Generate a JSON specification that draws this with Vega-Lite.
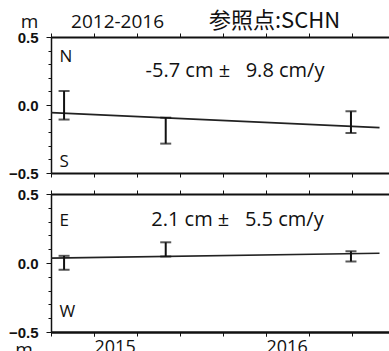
{
  "$schema": "https://vega.github.io/schema/vega-lite/v6.json",
  "background": "white",
  "padding": {"left": 8, "top": 10, "right": 0, "bottom": 0},
  "bounds": "flush",
  "spacing": 21,
  "config": {
    "view": {"stroke": null},
    "axis": {"domainColor": "#111", "tickColor": "#111", "grid": false}
  },
  "datasets": {
    "bars": [
      {"panel": "NS", "t": 2014.826, "lo": -0.107, "hi": 0.103},
      {"panel": "NS", "t": 2015.417, "lo": -0.284, "hi": -0.093},
      {"panel": "NS", "t": 2016.494, "lo": -0.206, "hi": -0.046},
      {"panel": "EW", "t": 2014.826, "lo": -0.049, "hi": 0.052},
      {"panel": "EW", "t": 2015.417, "lo": 0.047, "hi": 0.150},
      {"panel": "EW", "t": 2016.494, "lo": 0.011, "hi": 0.085}
    ],
    "trend": [
      {"panel": "NS", "t": 2014.75, "v": -0.056},
      {"panel": "NS", "t": 2016.66, "v": -0.166},
      {"panel": "EW", "t": 2014.75, "v": 0.035},
      {"panel": "EW", "t": 2016.66, "v": 0.071}
    ],
    "letters": [
      {"panel": "NS", "t": 2014.80, "v": 0.314, "txt": "N"},
      {"panel": "NS", "t": 2014.80, "v": -0.458, "txt": "S"},
      {"panel": "EW", "t": 2014.80, "v": 0.271, "txt": "E"},
      {"panel": "EW", "t": 2014.80, "v": -0.392, "txt": "W"}
    ],
    "rates": [
      {"panel": "NS", "t": 2015.82, "v": 0.206, "txt": "-5.7 cm ±\u00a0\u00a0 9.8 cm/y"},
      {"panel": "EW", "t": 2015.834, "v": 0.271, "txt": "2.1 cm ±\u00a0\u00a0 5.5 cm/y"}
    ],
    "units": [
      {"panel": "NS", "t": 2014.625, "v": 0.564, "txt": "m"},
      {"panel": "NS", "t": 2015.137, "v": 0.564, "txt": "2012-2016"},
      {"panel": "EW", "t": 2014.593, "v": -0.676, "txt": "m"}
    ],
    "ref": [
      {"panel": "NS", "t": 2016.05, "v": 0.564, "txt": "参照点:SCHN"}
    ]
  },
  "vconcat": [
    {
      "width": 344,
      "height": 136,
      "resolve": {"axis": {"x": "independent"}},
      "layer": [
        {
          "data": {"name": "trend"},
          "transform": [{"filter": "datum.panel == 'NS'"}],
          "mark": {"type": "line", "color": "#222", "strokeWidth": 1.6},
          "encoding": {
            "x": {"field": "t", "type": "quantitative", "scale": {"domain": [2014.75, 2016.75], "nice": false, "zero": false},
              "axis": {"orient": "bottom", "values": [2014.75, 2015, 2015.25, 2015.5, 2015.75, 2016, 2016.25, 2016.5, 2016.75], "tickCount": 50, "labels": false, "tickSize": 4, "domainWidth": 2, "title": null}},
            "y": {"field": "v", "type": "quantitative", "scale": {"domain": [-0.5, 0.5], "nice": false, "zero": false},
              "axis": {"values": [-0.5, -0.4, -0.3, -0.2, -0.1, 0, 0.1, 0.2, 0.3, 0.4, 0.5], "tickCount": 50, "format": ".1f",
                "labelExpr": "abs(datum.value*2 - round(datum.value*2)) < 0.001 ? datum.label : ''",
                "tickSize": {"condition": {"test": "abs(datum.value*2 - round(datum.value*2)) < 0.001", "value": 5}, "value": 3},
                "labelFont": "Liberation Sans", "labelFontWeight": "bold", "labelFontSize": 15, "labelColor": "#111",
                "labelPadding": 8, "domainWidth": 1.5, "labelOverlap": false, "labelFlush": false, "title": null}}
          }
        },
        {
          "data": {"name": "bars"},
          "transform": [{"filter": "datum.panel == 'NS'"}],
          "mark": {"type": "rule", "color": "#111", "strokeWidth": 2},
          "encoding": {
            "x": {"field": "t", "type": "quantitative",
              "axis": {"orient": "top", "values": [2014.75, 2015, 2015.25, 2015.5, 2015.75, 2016, 2016.25, 2016.5, 2016.75], "tickCount": 50, "labels": false, "tickSize": 4, "domainWidth": 2, "title": null}},
            "y": {"field": "lo", "type": "quantitative"},
            "y2": {"field": "hi"}
          }
        },
        {
          "data": {"name": "bars"},
          "transform": [{"filter": "datum.panel == 'NS'"}],
          "mark": {"type": "tick", "color": "#111", "orient": "horizontal", "size": 11, "thickness": 2},
          "encoding": {
            "x": {"field": "t", "type": "quantitative", "axis": null},
            "y": {"field": "lo", "type": "quantitative"}
          }
        },
        {
          "data": {"name": "bars"},
          "transform": [{"filter": "datum.panel == 'NS'"}],
          "mark": {"type": "tick", "color": "#111", "orient": "horizontal", "size": 11, "thickness": 2},
          "encoding": {
            "x": {"field": "t", "type": "quantitative", "axis": null},
            "y": {"field": "hi", "type": "quantitative"}
          }
        },
        {
          "data": {"name": "letters"},
          "transform": [{"filter": "datum.panel == 'NS'"}],
          "mark": {"type": "text", "font": "Open Sans", "fontSize": 17, "align": "left", "baseline": "alphabetic", "color": "#111"},
          "encoding": {
            "x": {"field": "t", "type": "quantitative", "axis": null},
            "y": {"field": "v", "type": "quantitative"},
            "text": {"field": "txt"}
          }
        },
        {
          "data": {"name": "rates"},
          "transform": [{"filter": "datum.panel == 'NS'"}],
          "mark": {"type": "text", "font": "Open Sans", "fontSize": 20, "align": "center", "baseline": "alphabetic", "color": "#111"},
          "encoding": {
            "x": {"field": "t", "type": "quantitative", "axis": null},
            "y": {"field": "v", "type": "quantitative"},
            "text": {"field": "txt"}
          }
        },
        {
          "data": {"name": "units"},
          "transform": [{"filter": "datum.panel == 'NS'"}],
          "mark": {"type": "text", "font": "Open Sans", "fontSize": 19, "align": "center", "baseline": "alphabetic", "color": "#111"},
          "encoding": {
            "x": {"field": "t", "type": "quantitative", "axis": null},
            "y": {"field": "v", "type": "quantitative"},
            "text": {"field": "txt"}
          }
        },
        {
          "data": {"name": "ref"},
          "transform": [{"filter": "datum.panel == 'NS'"}],
          "mark": {"type": "text", "font": "Noto Sans CJK JP", "fontSize": 22, "align": "center", "baseline": "alphabetic", "color": "#111"},
          "encoding": {
            "x": {"field": "t", "type": "quantitative", "axis": null},
            "y": {"field": "v", "type": "quantitative"},
            "text": {"field": "txt"}
          }
        }
      ]
    },
    {
      "width": 344,
      "height": 138,
      "resolve": {"axis": {"x": "independent"}},
      "layer": [
        {
          "data": {"name": "trend"},
          "transform": [{"filter": "datum.panel == 'EW'"}],
          "mark": {"type": "line", "color": "#222", "strokeWidth": 1.6},
          "encoding": {
            "x": {"field": "t", "type": "quantitative", "scale": {"domain": [2014.75, 2016.75], "nice": false, "zero": false},
              "axis": {"orient": "bottom", "values": [2015, 2016], "tickCount": 50, "format": "d",
                "labelAlign": "left", "labelBaseline": "top",
                "labelFont": "Open Sans", "labelFontSize": 18, "labelColor": "#111", "labelPadding": 2, "labelOverlap": false, "labelFlush": false,
                "tickSize": 4, "domainWidth": 2, "title": null}},
            "y": {"field": "v", "type": "quantitative", "scale": {"domain": [-0.5, 0.5], "nice": false, "zero": false},
              "axis": {"values": [-0.5, -0.4, -0.3, -0.2, -0.1, 0, 0.1, 0.2, 0.3, 0.4, 0.5], "tickCount": 50, "format": ".1f",
                "labelExpr": "abs(datum.value*2 - round(datum.value*2)) < 0.001 ? datum.label : ''",
                "tickSize": {"condition": {"test": "abs(datum.value*2 - round(datum.value*2)) < 0.001", "value": 5}, "value": 3},
                "labelFont": "Liberation Sans", "labelFontWeight": "bold", "labelFontSize": 15, "labelColor": "#111",
                "labelPadding": 8, "domainWidth": 1.5, "labelOverlap": false, "labelFlush": false, "title": null}}
          }
        },
        {
          "data": {"name": "bars"},
          "transform": [{"filter": "datum.panel == 'EW'"}],
          "mark": {"type": "rule", "color": "#111", "strokeWidth": 2},
          "encoding": {
            "x": {"field": "t", "type": "quantitative",
              "axis": {"orient": "top", "values": [2014.75, 2015, 2015.25, 2015.5, 2015.75, 2016, 2016.25, 2016.5, 2016.75], "tickCount": 50, "labels": false, "tickSize": 4, "domainWidth": 2, "title": null}},
            "y": {"field": "lo", "type": "quantitative"},
            "y2": {"field": "hi"}
          }
        },
        {
          "data": {"name": "bars"},
          "transform": [{"filter": "datum.panel == 'EW'"}],
          "mark": {"type": "tick", "color": "#111", "orient": "horizontal", "size": 11, "thickness": 2},
          "encoding": {
            "x": {"field": "t", "type": "quantitative",
              "axis": {"orient": "bottom", "values": [2014.75, 2015, 2015.25, 2015.5, 2015.75, 2016, 2016.25, 2016.5, 2016.75], "tickCount": 50, "labels": false, "tickSize": 4, "domainWidth": 2, "title": null}},
            "y": {"field": "lo", "type": "quantitative"}
          }
        },
        {
          "data": {"name": "bars"},
          "transform": [{"filter": "datum.panel == 'EW'"}],
          "mark": {"type": "tick", "color": "#111", "orient": "horizontal", "size": 11, "thickness": 2},
          "encoding": {
            "x": {"field": "t", "type": "quantitative", "axis": null},
            "y": {"field": "hi", "type": "quantitative"}
          }
        },
        {
          "data": {"name": "letters"},
          "transform": [{"filter": "datum.panel == 'EW'"}],
          "mark": {"type": "text", "font": "Open Sans", "fontSize": 17, "align": "left", "baseline": "alphabetic", "color": "#111"},
          "encoding": {
            "x": {"field": "t", "type": "quantitative", "axis": null},
            "y": {"field": "v", "type": "quantitative"},
            "text": {"field": "txt"}
          }
        },
        {
          "data": {"name": "rates"},
          "transform": [{"filter": "datum.panel == 'EW'"}],
          "mark": {"type": "text", "font": "Open Sans", "fontSize": 20, "align": "center", "baseline": "alphabetic", "color": "#111"},
          "encoding": {
            "x": {"field": "t", "type": "quantitative", "axis": null},
            "y": {"field": "v", "type": "quantitative"},
            "text": {"field": "txt"}
          }
        },
        {
          "data": {"name": "units"},
          "transform": [{"filter": "datum.panel == 'EW'"}],
          "mark": {"type": "text", "font": "Open Sans", "fontSize": 19, "align": "center", "baseline": "alphabetic", "color": "#111"},
          "encoding": {
            "x": {"field": "t", "type": "quantitative", "axis": null},
            "y": {"field": "v", "type": "quantitative"},
            "text": {"field": "txt"}
          }
        }
      ]
    }
  ]
}
